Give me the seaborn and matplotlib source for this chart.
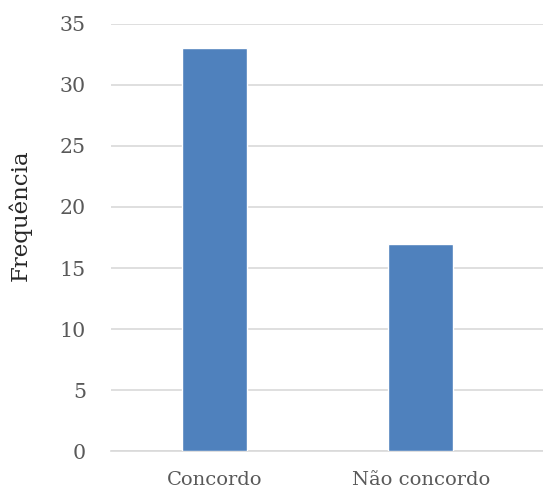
import pandas as pd
import matplotlib
matplotlib.use("Agg")
import matplotlib.pyplot as plt
import seaborn as sns

# Data
categorias = ["Concordo", "Não concordo"]
frequencias = [33, 17]

df = pd.DataFrame({"resposta": categorias, "freq": frequencias})

sns.set_style("white")
plt.rcParams["font.family"] = ["DejaVu Serif"]

fig = plt.figure(figsize=(5.43, 4.91), dpi=100)
ax = fig.add_axes([0.2044, 0.0809, 0.7956, 0.8708])

sns.barplot(data=df, x="resposta", y="freq", color="#4F81BD", saturation=1,
            width=0.315, ax=ax, zorder=3)

ax.set_ylim(0, 35)
ax.set_yticks(range(0, 36, 5))
ax.set_xlim(-0.5, 1.592)
ax.yaxis.grid(True, color="#D9D9D9", linewidth=1.2, zorder=0)
ax.set_axisbelow(True)
for s in ["top", "right", "left"]:
    ax.spines[s].set_visible(False)
ax.spines["bottom"].set_color("#D9D9D9")
ax.spines["bottom"].set_linewidth(1.2)

ax.tick_params(axis="both", length=0, labelcolor="#595959")
ax.tick_params(axis="y", pad=18, labelsize=14.8)
ax.tick_params(axis="x", pad=14, labelsize=14)
ax.set_xlabel("")
ax.set_ylabel("Frequência", fontsize=16.5, color="#262626")
ax.yaxis.set_label_coords(-0.183, 0.553)

fig.savefig("out.png", dpi=100)
